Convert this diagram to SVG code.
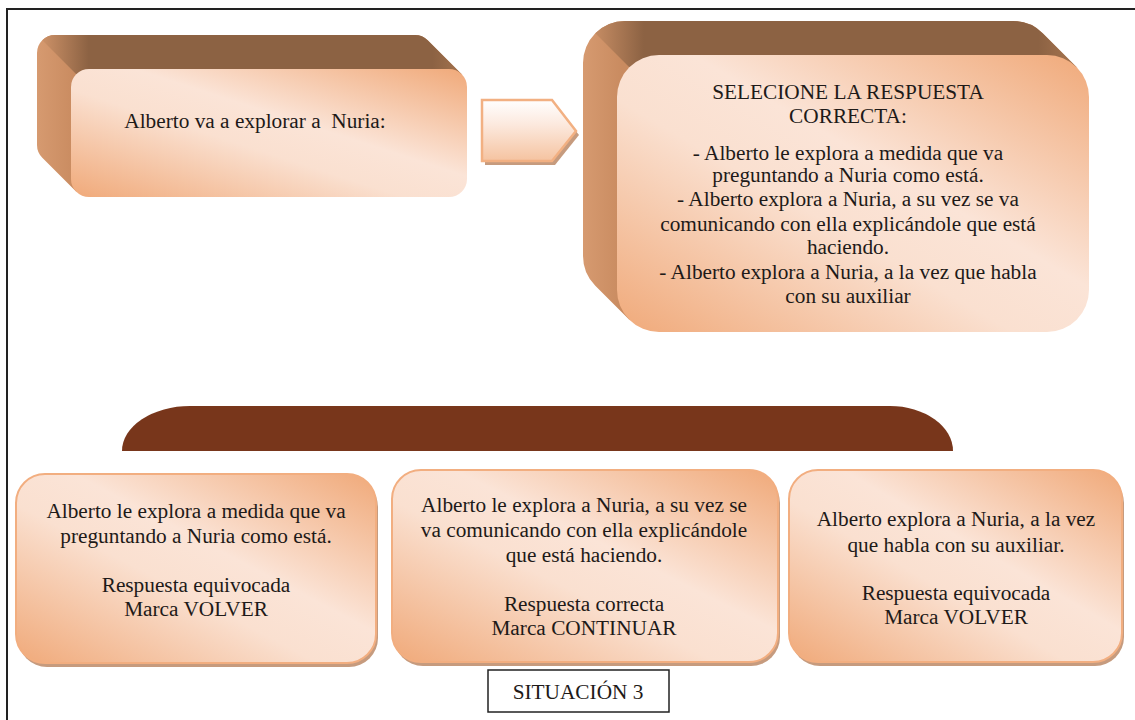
<svg xmlns="http://www.w3.org/2000/svg" width="1135" height="720" viewBox="0 0 1135 720">
<defs>
<linearGradient id="face" x1="0" y1="1" x2="1" y2="0">
<stop offset="0" stop-color="#F0A979"/>
<stop offset="0.42" stop-color="#FAE0D0"/>
<stop offset="0.58" stop-color="#FBE4D7"/>
<stop offset="1" stop-color="#F0A979"/>
</linearGradient>
<linearGradient id="arrowFill" x1="0" y1="0" x2="0" y2="1">
<stop offset="0" stop-color="#FFFFFF"/>
<stop offset="0.4" stop-color="#FCE9DE"/>
<stop offset="1" stop-color="#F5C3A0"/>
</linearGradient>
<linearGradient id="top1" gradientUnits="userSpaceOnUse" x1="37" y1="0" x2="467" y2="0">
<stop offset="0" stop-color="#D3966B"/>
<stop offset="0.12" stop-color="#8C6243"/>
<stop offset="0.92" stop-color="#8C6243"/>
<stop offset="1" stop-color="#A87650"/>
</linearGradient>
<linearGradient id="top2" gradientUnits="userSpaceOnUse" x1="583" y1="0" x2="1089" y2="0">
<stop offset="0" stop-color="#D3966B"/>
<stop offset="0.12" stop-color="#8C6243"/>
<stop offset="0.9" stop-color="#8C6243"/>
<stop offset="1" stop-color="#B07C55"/>
</linearGradient>
<linearGradient id="side1" gradientUnits="userSpaceOnUse" x1="37" y1="0" x2="75" y2="0">
<stop offset="0" stop-color="#D69A70"/>
<stop offset="1" stop-color="#C98B60"/>
</linearGradient>
<linearGradient id="side2" gradientUnits="userSpaceOnUse" x1="583" y1="0" x2="622" y2="0">
<stop offset="0" stop-color="#D69A70"/>
<stop offset="1" stop-color="#C98B60"/>
</linearGradient>
</defs>
<style>
.t{font-family:"Liberation Serif","Times New Roman",serif;font-size:21.3px;fill:#1E1A18;text-anchor:middle}
.front{fill:url(#face)}
.card{fill:url(#face);stroke:#F2AE80;stroke-width:2}
.shadow{fill:#C69B7E}
</style>
<rect x="0" y="0" width="1135" height="720" fill="#FFFFFF"/>
<path d="M7,720 L7,9 L1135,9" fill="none" stroke="#222222" stroke-width="2"/>

<g id="node-intro">
<path d="M37,53 A18 18 0 0 1 55,35 L415,35 A18 18 0 0 1 427.7,40.3 L461.7,74.3 L449,87 L89,179 L76.3,191.7 L42.3,157.7 A18 18 0 0 1 37,145 Z" fill="url(#side1)"/>
<path d="M42.3,40.3 A18 18 0 0 1 55,35 L415,35 A18 18 0 0 1 427.7,40.3 L461.7,74.3 L76.3,74.3 Z" fill="url(#top1)"/>
<rect class="front" x="71" y="69" width="396" height="128" rx="18"/>
<text class="t" x="255" y="128" xml:space="preserve">Alberto va a explorar a  Nuria:</text>
</g>

<g id="node-arrow">
<polygon points="485,104 555,104 579,135 555,165 485,165" fill="#C69B7E"/>
<polygon points="482,100 552,100 576,131 552,161 482,161" fill="url(#arrowFill)" stroke="#F2B082" stroke-width="2.5"/>
</g>

<g id="node-question">
<path d="M583,63 A42 42 0 0 1 625,21 L1013,21 A42 42 0 0 1 1042.7,33.3 L1076.7,67.3 L1047,97 L659,290 L629.3,319.7 L595.3,285.7 A42 42 0 0 1 583,256 Z" fill="url(#side2)"/>
<path d="M595.3,33.3 A42 42 0 0 1 625,21 L1013,21 A42 42 0 0 1 1042.7,33.3 L1076.7,67.3 L629.3,67.3 Z" fill="url(#top2)"/>
<rect class="front" x="617" y="55" width="472" height="277" rx="42"/>
<text class="t" x="848" y="99">SELECIONE LA RESPUESTA</text>
<text class="t" x="848" y="123">CORRECTA:</text>
<text class="t" x="848" y="160">- Alberto le explora a medida que va</text>
<text class="t" x="848" y="182">preguntando a Nuria como está.</text>
<text class="t" x="848" y="206">- Alberto explora a Nuria, a su vez se va</text>
<text class="t" x="848" y="231">comunicando con ella explicándole que está</text>
<text class="t" x="848" y="254">haciendo.</text>
<text class="t" x="848" y="279">- Alberto explora a Nuria, a la vez que habla</text>
<text class="t" x="848" y="303">con su auxiliar</text>
</g>

<g id="node-banner">
<path d="M122,451 A68 45 0 0 1 190,406 L890,406 A63 45 0 0 1 953,451 Z" fill="#78361B"/>
</g>

<g id="node-option-a">
<rect class="shadow" x="18" y="478" width="360" height="189" rx="29"/>
<rect class="card" x="16" y="474" width="360" height="189" rx="29"/>
<text class="t" x="196" y="518">Alberto le explora a medida que va</text>
<text class="t" x="196" y="543">preguntando a Nuria como está.</text>
<text class="t" x="196" y="592">Respuesta equivocada</text>
<text class="t" x="196" y="616">Marca VOLVER</text>
</g>

<g id="node-option-b">
<rect class="shadow" x="394" y="474" width="386" height="192" rx="29"/>
<rect class="card" x="392" y="470" width="386" height="192" rx="29"/>
<text class="t" x="584" y="512">Alberto le explora a Nuria, a su vez se</text>
<text class="t" x="584" y="537">va comunicando con ella explicándole</text>
<text class="t" x="584" y="562">que está haciendo.</text>
<text class="t" x="584" y="611">Respuesta correcta</text>
<text class="t" x="584" y="635">Marca CONTINUAR</text>
</g>

<g id="node-option-c">
<rect class="shadow" x="791" y="474" width="333" height="192" rx="29"/>
<rect class="card" x="789" y="470" width="333" height="192" rx="29"/>
<text class="t" x="956" y="526">Alberto explora a Nuria, a la vez</text>
<text class="t" x="956" y="552">que habla con su auxiliar.</text>
<text class="t" x="956" y="600">Respuesta equivocada</text>
<text class="t" x="956" y="624">Marca VOLVER</text>
</g>

<g id="node-label">
<rect x="488" y="670" width="181" height="42" fill="#FFFFFF" stroke="#222222" stroke-width="1.5"/>
<text class="t" x="578" y="699">SITUACIÓN 3</text>
</g>

<g id="connectors"></g>
</svg>
